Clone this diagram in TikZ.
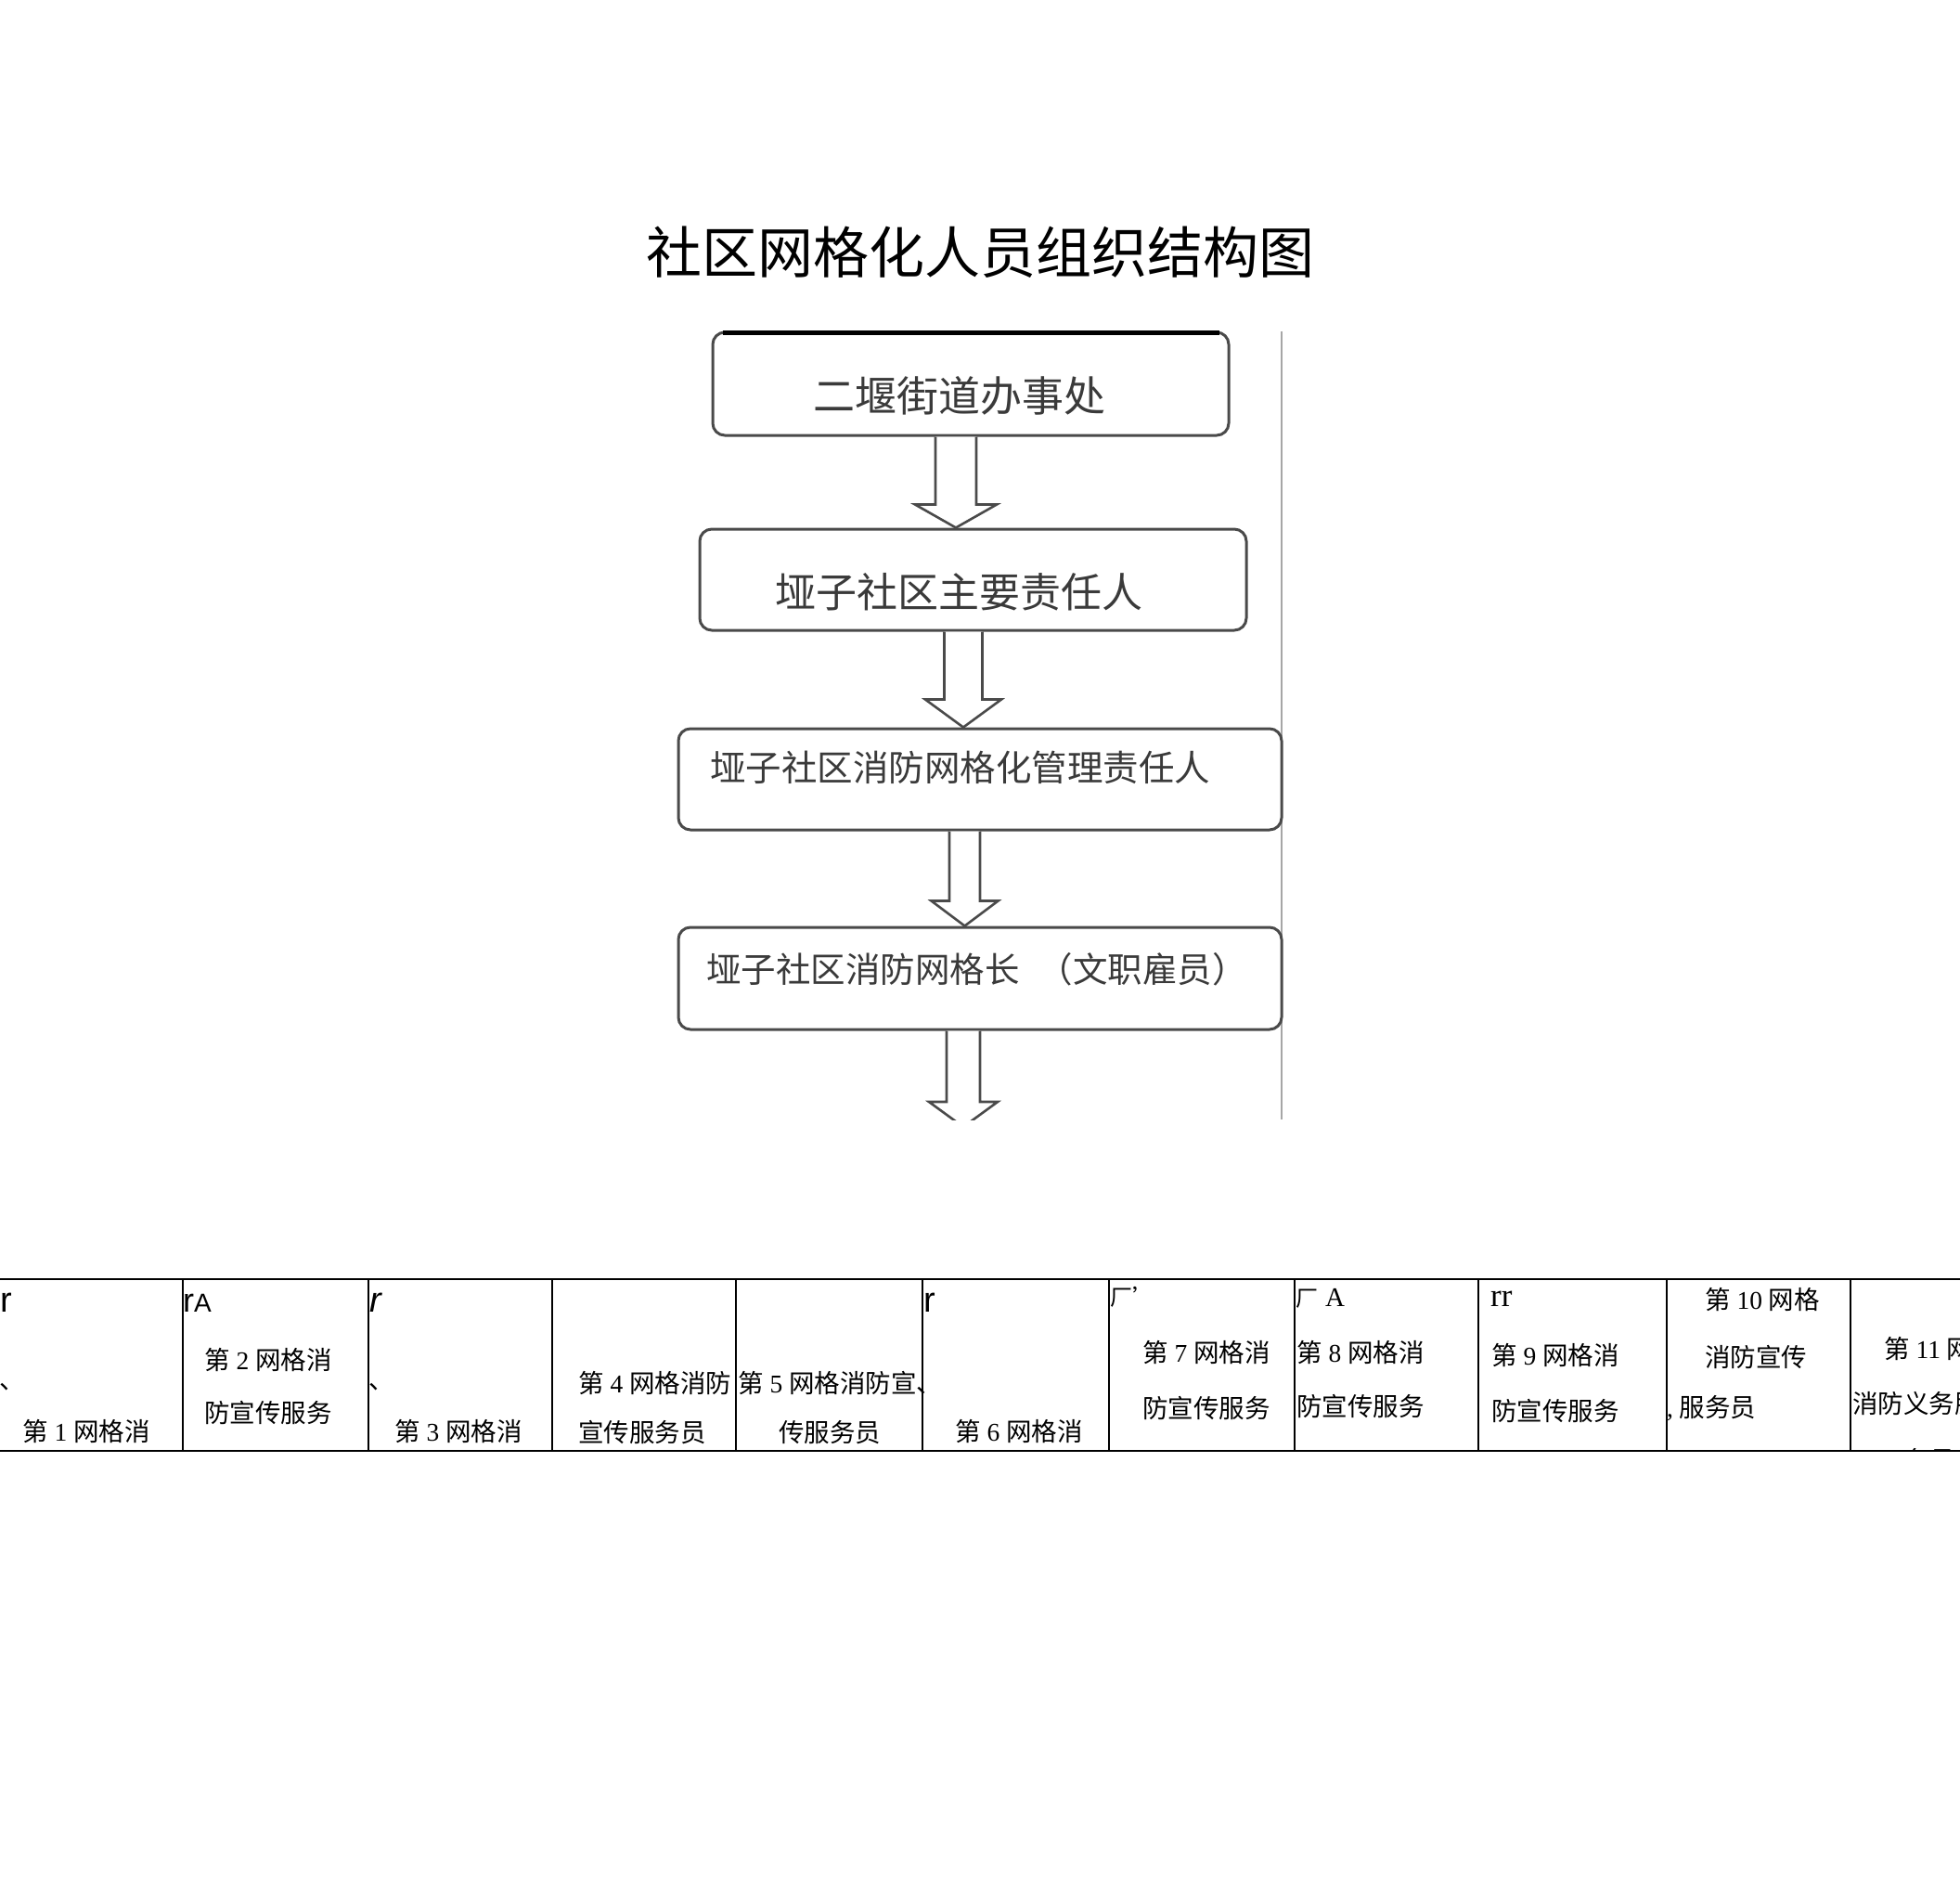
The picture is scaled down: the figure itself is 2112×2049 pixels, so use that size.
\documentclass[tikz,border=0pt]{standalone}
\usepackage{fontspec}
\setmainfont{Liberation Serif}
\newfontfamily\cjk{Noto Sans CJK SC}
\newfontfamily\sansf{Liberation Sans}
\usetikzlibrary{calc}
\definecolor{boxline}{HTML}{4A4A4A}
\definecolor{boxtext}{HTML}{3A3A3A}
\newcommand\fatarrow[6]{%
  \coordinate (ax) at (#3,0);
  \draw[fatarr] ($(#1.south -| ax)+(-#4,0)$) -- ($(#2.north -| ax)+(-#4,-#6)$)
    -- ($(#2.north -| ax)+(-#5,-#6)$) -- (#2.north -| ax)
    -- ($(#2.north -| ax)+(#5,-#6)$) -- ($(#2.north -| ax)+(#4,-#6)$)
    -- ($(#1.south -| ax)+(#4,0)$);}
\tikzset{
  fbox/.style={draw=boxline, line width=3pt, rounded corners=13pt, fill=white, inner sep=0pt},
  ftext/.style={text=boxtext, inner sep=0pt, font=\cjk},
  fatarr/.style={draw=boxline, line width=2.6pt, fill=white, line join=miter},
  cell/.style={anchor=west, inner sep=0pt, font=\fontsize{27.5}{33}\selectfont},
  junk/.style={anchor=base west, inner sep=0pt},
  grid/.style={line width=1.6pt, black}
}
\begin{document}
\begin{tikzpicture}[x=1pt,y=-1pt]
\useasboundingbox (0,0) rectangle (2112,2049);
\fill[white] (0,0) rectangle (2112,2049);

% title
\node[inner sep=0pt, font=\cjk\fontsize{60}{72}\selectfont] (title) at (1056,272) {社区网格化人员组织结构图};

% embedded picture edge
\draw[black!35, line width=1.5pt] (1381,357) -- (1381,1206);

% boxes
\node[fbox, minimum width=556pt, minimum height=111pt] (b1) at (1046,413.5) {};
\node[fbox, minimum width=589pt, minimum height=109pt] (b2) at (1048.5,624.5) {};
\node[fbox, minimum width=650pt, minimum height=109pt] (b3) at (1056,839.5) {};
\node[fbox, minimum width=650pt, minimum height=110pt] (b4) at (1056,1054) {};
\draw[black, line width=4.5pt] ($(b1.north west)+(12,2)$) -- ($(b1.north east)+(-12,2)$);

\node[ftext, font=\cjk\fontsize{45}{54}\selectfont] (t1) at (1034,426) {二堰街道办事处};
\node[ftext, font=\cjk\fontsize{44}{53}\selectfont] (t2) at (1033,638) {垭子社区主要责任人};
\node[ftext, anchor=west, font=\cjk\fontsize{38.5}{46}\selectfont] (t3) at (765,827) {垭子社区消防网格化管理责任人};
\node[ftext, anchor=west, font=\cjk\fontsize{37.5}{45}\selectfont] (t4) at (761,1044) {垭子社区消防网格长\hspace{20pt}（文职雇员）};

% arrows
\fatarrow{b1}{b2}{1030}{22}{44}{25}
\fatarrow{b2}{b3}{1038}{20.5}{41}{30}
\fatarrow{b3}{b4}{1039.5}{16.5}{36}{27}
\coordinate (e4) at (1038,1214);
\begin{scope}
  \clip (700,1100) rectangle (1400,1206);
  \fatarrow{b4}{e4}{1038}{18}{37}{27}
\end{scope}

% table grid
\draw[grid] (0,1378) -- (2112,1378);
\draw[grid] (0,1563) -- (2112,1563);
\foreach \x in {197,397,595,793,994,1195,1395,1593,1796,1994}
  \draw[grid] (\x,1378) -- (\x,1563);

% cell 0
\node[junk, font=\sansf\fontsize{38}{40}\selectfont] (j0) at (0,1413) {r};
\node[junk, font=\cjk\fontsize{27.5}{33}\selectfont] (d0) at (-1,1496) {、};
\node[cell] (c0) at (24,1542) {{\cjk 第} 1 {\cjk 网格消}};
% cell 1
\node[junk, font=\sansf\fontsize{36}{40}\selectfont] (j1) at (197,1413) {r\fontsize{28}{30}\selectfont A};
\node[cell] (c1a) at (220,1465) {{\cjk 第} 2 {\cjk 网格消}};
\node[cell] (c1b) at (220,1522) {{\cjk 防宣传服务}};
% cell 2
\node[junk, font=\sansf\itshape\fontsize{38}{40}\selectfont] (j2) at (398,1413) {r};
\node[junk, font=\cjk\fontsize{27.5}{33}\selectfont] (d2) at (397,1496) {、};
\node[cell] (c2) at (425,1542) {{\cjk 第} 3 {\cjk 网格消}};
% cell 3
\node[cell] (c3a) at (623,1490) {{\cjk 第} 4 {\cjk 网格消防}};
\node[cell] (c3b) at (623,1543) {{\cjk 宣传服务员}};
% cell 4
\node[cell] (c4a) at (795,1490) {{\cjk 第} 5 {\cjk 网格消防宣、}};
\node[cell] (c4b) at (839,1543) {{\cjk 传服务员}};
% cell 5
\node[junk, font=\sansf\fontsize{38}{40}\selectfont] (j5) at (995,1413) {r};
\node[cell] (c5) at (1029,1542) {{\cjk 第} 6 {\cjk 网格消}};
% cell 6
\node[junk, font=\cjk\fontsize{24}{28}\selectfont] (j6) at (1196,1406) {厂’};
\node[cell] (c6a) at (1231,1457) {{\cjk 第} 7 {\cjk 网格消}};
\node[cell] (c6b) at (1231,1517) {{\cjk 防宣传服务}};
% cell 7
\node[junk, font=\cjk\fontsize{24}{28}\selectfont] (j7) at (1396,1407) {厂\hspace{8pt}{\rmfamily\fontsize{29}{30}\selectfont A}};
\node[cell] (c7a) at (1397,1457) {{\cjk 第} 8 {\cjk 网格消}};
\node[cell] (c7b) at (1397,1515) {{\cjk 防宣传服务}};
% cell 8
\node[junk, font=\rmfamily\fontsize{35}{38}\selectfont] (j8) at (1606,1407) {rr};
\node[cell] (c8a) at (1607,1460) {{\cjk 第} 9 {\cjk 网格消}};
\node[cell] (c8b) at (1607,1520) {{\cjk 防宣传服务}};
% cell 9
\node[cell] (c9a) at (1837,1400) {{\cjk 第} 10 {\cjk 网格}};
\node[cell] (c9b) at (1837,1462) {{\cjk 消防宣传}};
\node[cell] (c9c) at (1796,1517) {, {\cjk 服务员}};
% cell 10
\node[cell] (c10a) at (2030,1453) {{\cjk 第} 11 {\cjk 网格消}};
\node[cell] (c10b) at (1996,1512) {{\cjk 消防义务服}};
\begin{scope}
  \clip (1994,1378) rectangle (2112,1562);
  \node[cell] (c10c) at (2052,1573) {{\cjk 务员}};
\end{scope}
\end{tikzpicture}
\end{document}
